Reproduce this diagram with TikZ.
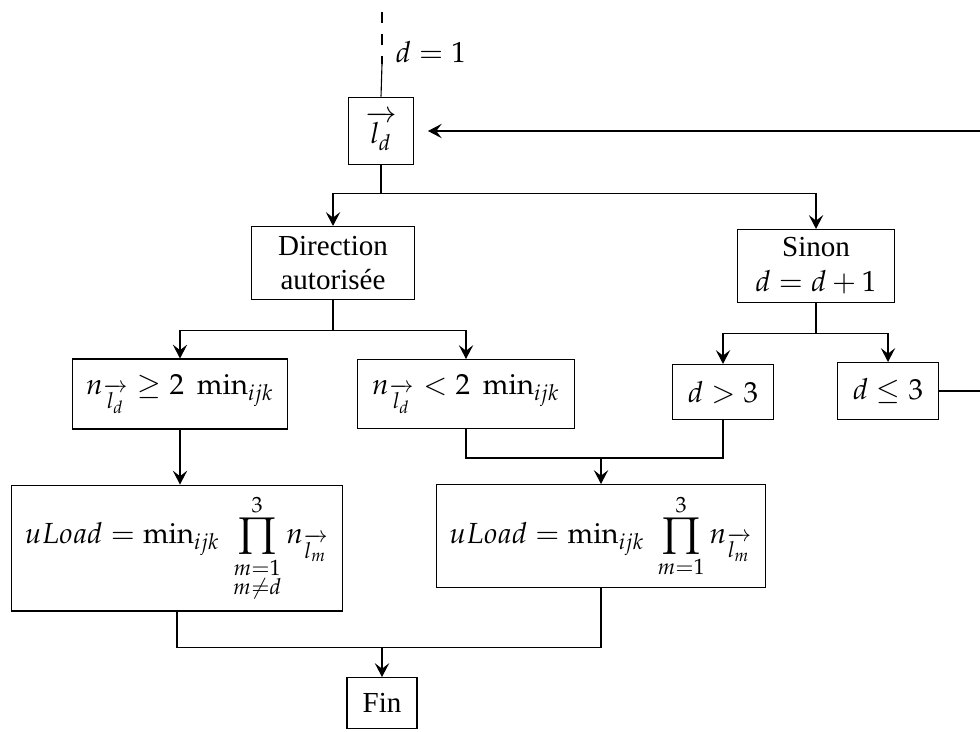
\documentclass[tikz,border=0pt]{standalone}
\usepackage{amsmath}
\usepackage{mathpazo}
\usepackage[no-math]{fontspec}
\setmainfont{Liberation Serif}
\usetikzlibrary{arrows.meta}

\begin{document}
\begin{tikzpicture}[
  x=0.127mm, y=-0.127mm,
  font=\fontsize{10.5pt}{12.6pt}\selectfont,
  every node/.style={align=center},
  box/.style={draw, inner sep=2pt},
  >={Stealth[length=5pt, width=5.2pt, inset=2pt]},
]
\clip (0,0) rectangle (980,731);
\node[box, minimum width=23.5pt, minimum height=24.5pt] (ld) at (381,131) {$\overrightarrow{l_d}$};
\node[box, minimum width=58.8pt, minimum height=26.4pt] (dir) at (333,263) {Direction\\autorisée};
\node[box, minimum width=57pt, minimum height=26.4pt] (sinon) at (816,266) {Sinon\\$d=d+1$};
\node[box, minimum width=78pt, minimum height=25.3pt] (nge) at (180,394) {$n_{\overrightarrow{l_d}} \geq 2\;\min\nolimits_{ijk}$};
\node[box, minimum width=78.3pt, minimum height=24.9pt] (nlt) at (466,394) {$n_{\overrightarrow{l_d}} < 2\;\min\nolimits_{ijk}$};
\node[box, minimum width=36.8pt, minimum height=19.9pt] (dgt) at (723,392) {$d>3$};
\node[box, minimum width=36.8pt, minimum height=20.6pt] (dle) at (888,391) {$d\leq 3$};
\node[box, minimum width=119.5pt, minimum height=45.5pt] (uload1) at (177,548)
  {$\displaystyle uLoad=\min\nolimits_{ijk}\;\prod_{\substack{m=1\\m\neq d}}^{3} n_{\overrightarrow{l_m}}$};
\node[box, minimum width=118.8pt, minimum height=37.2pt] (uload2) at (601,536)
  {$\displaystyle uLoad=\min\nolimits_{ijk}\;\prod_{m=1}^{3} n_{\overrightarrow{l_m}}$};
\node[box, minimum width=25.3pt, minimum height=18.4pt] (fin) at (382,703) {Fin};

% start
\coordinate (top) at (382,12);
\coordinate (mid) at (382,64);
\draw[dash pattern=on 4pt off 4pt] (top) -- (mid);
\draw (mid) -- (ld.north);
\node[anchor=west] (dinit) at (386,52) {$d=1$};

% first split
\draw (ld.south) -- ++(0,28) coordinate (j1);
\draw[->] (j1) -| (dir.north);
\draw[->] (j1) -| (sinon.north);
\draw (dir.south) -- ++(0,30) coordinate (j2);
\draw[->] (j2) -| (nge.north);
\draw[->] (j2) -| (nlt.north);
\draw (sinon.south) -- ++(0,30) coordinate (j3);
\draw[->] (j3) -| (dgt.north);
\draw[->] (j3) -| (dle.north);

% loop back
\draw[->, shorten >=5pt] (dle.east) -- ++(150,0) |- (ld.east);

% results
\draw[->] (nge.south) -- (nge.south |- uload1.north);
\draw (nlt.south) -- ++(0,29) coordinate (j4) -| (dgt.south);
\draw[->] (j4 -| uload2.north) -- (uload2.north);
\draw (uload1.south) -- ++(0,36) coordinate (j5) -| (uload2.south);
\draw[->] (j5 -| fin.north) -- (fin.north);
\end{tikzpicture}
\end{document}
